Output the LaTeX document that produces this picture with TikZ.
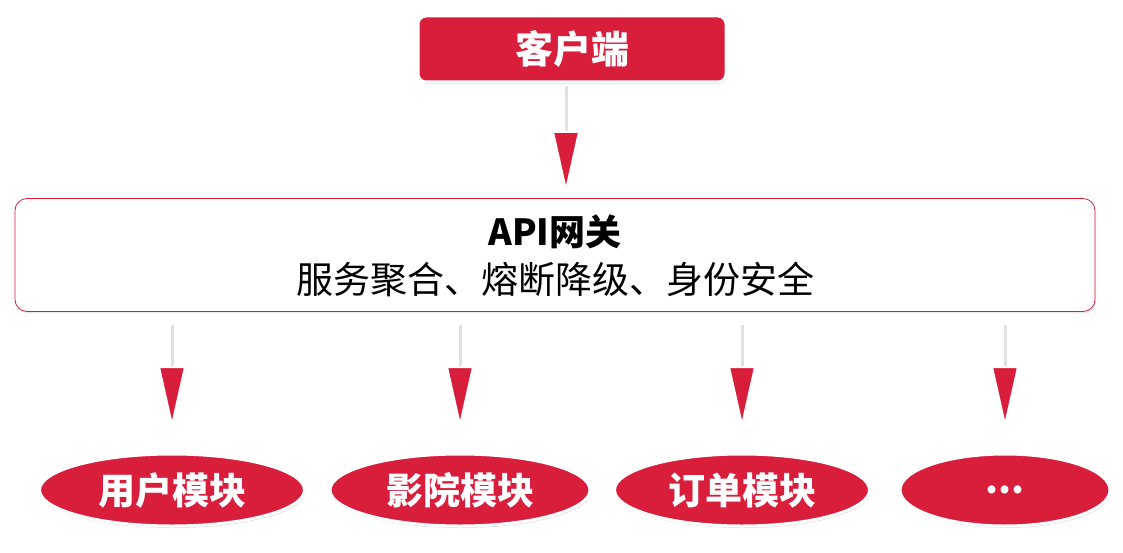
\documentclass[tikz,border=0pt]{standalone}
\usepackage{fontspec}
\setmainfont{Noto Sans CJK SC}
\usetikzlibrary{shapes.geometric,shadows}
\definecolor{apired}{HTML}{D91E3C}
\tikzset{
        redbox/.style = {draw=white, line width=3pt, fill=apired, rounded corners=8pt,
            drop shadow={opacity=0.25, shadow xshift=1pt, shadow yshift=-2pt},
            text=white, font=\fontsize{38}{42}\selectfont\bfseries},
        module/.style = {ellipse, draw=white, line width=3pt, fill=apired,
            drop shadow={opacity=0.25, shadow xshift=1pt, shadow yshift=-2pt},
            text=white, font=\fontsize{37}{40}\selectfont\bfseries, inner sep=0pt},
        shaft/.style = {draw=white, line width=7pt},
        shaftin/.style = {draw=black!12, line width=3pt}
    }
\newcommand{\flowarrow}[2]{%
    \draw[shaft] (#1) -- (#2);
    \draw[shaftin] (#1) -- ([yshift=28pt]#2);
    \filldraw[fill=apired, draw=white, line width=2pt, line join=round]
        ([xshift=-13pt, yshift=58pt]#2) -- (#2) -- ([xshift=13pt, yshift=58pt]#2) -- cycle;
}

\begin{document}
\begin{tikzpicture}[x=1pt, y=-1pt]
            \useasboundingbox (0,0) rectangle (1123,553);

            \node[redbox, minimum width=308pt, minimum height=66pt] (client) at (572,49) {客户端};

            \node[draw=apired, line width=0.8pt, fill=white, rounded corners=12pt,
                minimum width=1080pt, minimum height=113pt,
                drop shadow={opacity=0.15, shadow xshift=1pt, shadow yshift=-2pt}] (gateway) at (555,255) {};
            \node[font=\fontsize{36}{40}\selectfont\bfseries] (gwtitle) at (555,232) {API网关};
            \node[font=\fontsize{37}{40}\selectfont] (gwtext) at (555,279) {服务聚合、熔断降级、身份安全};

            \coordinate (c1) at (566,86);
            \coordinate (c2) at (566,190);
            \flowarrow{c1}{c2}

            \foreach \x/\w/\name/\txt in {172/265/user/用户模块, 460/260/cinema/影院模块,
                    742/255/order/订单模块, 1005/210/more/{{...}}} {
                \node[module, minimum width=\w pt, minimum height=72pt] (\name) at (\x,490) {\txt};
                \coordinate (\name a) at (\x,325);
                \coordinate (\name b) at (\x,425);
                \flowarrow{\name a}{\name b}
            }

        \end{tikzpicture}
\end{document}
